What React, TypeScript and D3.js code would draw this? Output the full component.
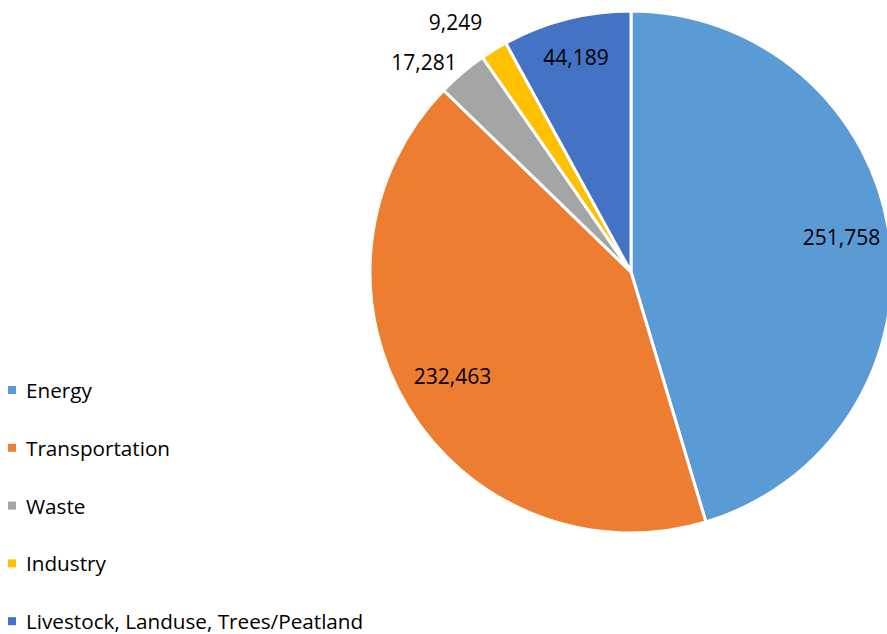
import React from "react";
import * as d3 from "d3";

const categories = ["Energy", "Transportation", "Waste", "Industry", "Livestock, Landuse, Trees/Peatland"];
const values = [251758, 232463, 17281, 9249, 44189];
const colors = ["#5B9BD5", "#ED7D31", "#A5A5A5", "#FFC000", "#4472C4"];

const W = 887;
const H = 634;
const cx = 631;
const cy = 272;
const R = 261;
const FONT = "'Open Sans', sans-serif";

export default function App() {
  const pie = d3.pie<number>().sort(null).value((d) => d)(values);
  const arc = d3.arc<d3.PieArcDatum<number>>().innerRadius(0).outerRadius(R);
  const fmt = d3.format(",");
  // label radial positions (fraction of radius) — inside for big slices, outside for small
  const labelR = [0.815, 0.8, 1.15, 1.15, 0.85];
  const labelShift: [number, number][] = [[0, -4], [0, -4], [-13, 19], [-18, 5], [0, 0]];

  return (
    <svg width={W} height={H} style={{ position: "absolute", left: 0, top: 0 }}>
      <rect width={W} height={H} fill="#fff" />
      <g transform={`translate(${cx},${cy})`}>
        {pie.map((p, i) => (
          <path key={i} d={arc(p) || ""} fill={colors[i]} stroke="#fff" strokeWidth={3} strokeLinejoin="round" />
        ))}
        {pie.map((p, i) => {
          const a = (p.startAngle + p.endAngle) / 2;
          const r = R * labelR[i];
          const x = Math.sin(a) * r + labelShift[i][0];
          const y = -Math.cos(a) * r + labelShift[i][1];
          return (
            <text key={i} x={x} y={y} textAnchor="middle" dominantBaseline="central"
              fontFamily={FONT} fontSize={21} fill="#000">
              {fmt(values[i])}
            </text>
          );
        })}
      </g>
      {categories.map((c, i) => (
        <g key={c} transform={`translate(8,${390 + i * 57.8})`}>
          <rect x={0} y={-4} width={8} height={8} fill={colors[i]} />
          <text x={18} y={0} dominantBaseline="central" fontFamily={FONT} fontSize={20.7} fill="#000">{c}</text>
        </g>
      ))}
    </svg>
  );
}
